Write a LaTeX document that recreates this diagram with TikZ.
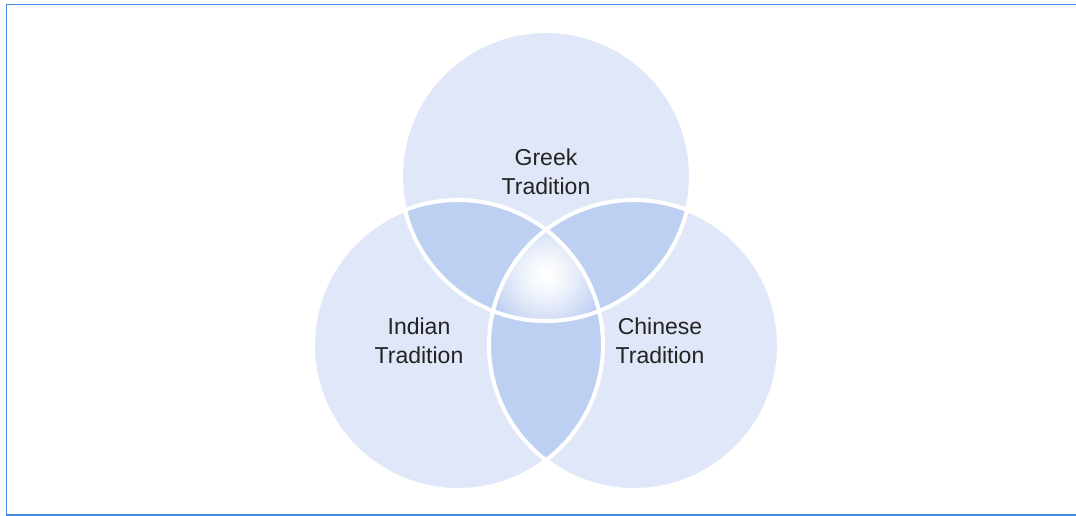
\documentclass[tikz,border=0pt]{standalone}
\usepackage{fontspec}
\setmainfont{Liberation Sans}
\definecolor{frameblue}{RGB}{66,140,230}
\definecolor{cone}{RGB}{224,231,248}
\definecolor{ctwo}{RGB}{190,208,241}
\definecolor{cthree}{RGB}{164,188,236}
\definecolor{txt}{RGB}{35,35,35}
\begin{document}
\begin{tikzpicture}[x=1pt,y=-1pt,
  lbl/.style={align=center,text=txt,font=\fontsize{23}{29}\selectfont,inner sep=0pt},
  sep/.style={draw=white,line width=4pt}]
\useasboundingbox (0,0) rectangle (1076,516);
\fill[white] (0,0) rectangle (1076,516);
\def\pG{(546,176) circle (145)}
\def\pI{(458,345) circle (145)}
\def\pC{(634,345) circle (145)}
% single regions
\fill[cone] \pG;
\fill[cone] \pI;
\fill[cone] \pC;
% pairwise overlaps
\begin{scope}\clip \pG; \fill[ctwo] \pI; \end{scope}
\begin{scope}\clip \pG; \fill[ctwo] \pC; \end{scope}
\begin{scope}\clip \pI; \fill[ctwo] \pC; \end{scope}
% triple overlap with glow
\begin{scope}
  \clip \pG; \clip \pI; \clip \pC;
  \fill[cthree] (546,275) circle (100);
  \foreach \k in {76,74,...,2}{
    \pgfmathtruncatemacro\p{100*(\k/76)^1.4}
    \fill[cthree!\p!white] (546,275) circle (\k);
  }
\end{scope}
% white separating outlines
\draw[sep] \pG;
\draw[sep] \pI;
\draw[sep] \pC;
% frame
\draw[frameblue,line width=1.5pt] (6.5,4.5) rectangle (1090,515);
% labels
\node[lbl] (greek) at (546,171.5) {Greek\\Tradition};
\node[lbl] (indian) at (419,340.5) {Indian\\Tradition};
\node[lbl] (chinese) at (660,340.5) {Chinese\\Tradition};
\end{tikzpicture}
\end{document}
